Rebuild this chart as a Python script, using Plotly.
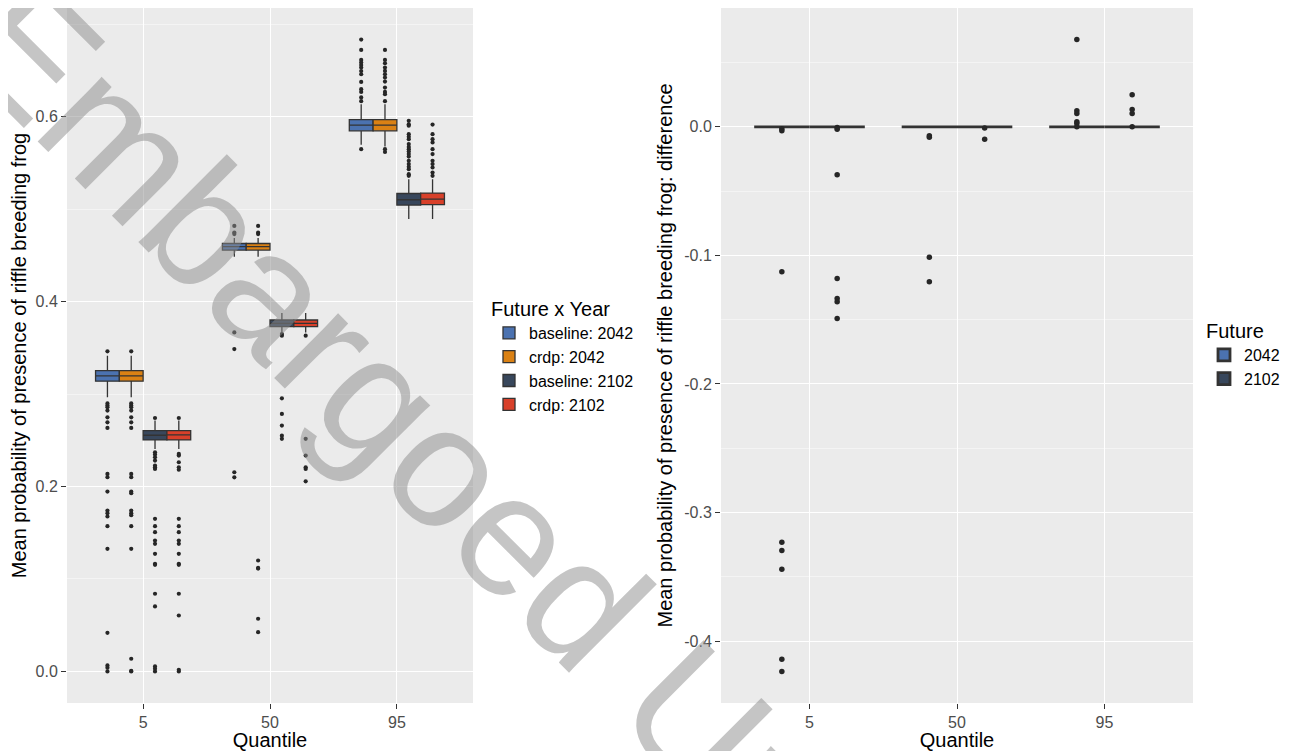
import plotly.graph_objects as go

# ---------------- data ----------------
quantile_labels = ["5", "50", "95"]
quantile_pos = [1, 2, 3]

# Left panel: Future x Year groups
groups_left = ["baseline: 2042", "crdp: 2042", "baseline: 2102", "crdp: 2102"]
colors_left = ["#4B72B0", "#DA8114", "#38475C", "#D8402A"]

# box statistics per group, listed over quantiles [5, 50, 95]
q1_bl2042 = [0.3140, 0.4559, 0.5849]
med_bl2042 = [0.3197, 0.4595, 0.5910]
q3_bl2042 = [0.3254, 0.4630, 0.5970]
lo_bl2042 = [0.2966, 0.4486, 0.5697]
hi_bl2042 = [0.3416, 0.4689, 0.6137]

q1_cr2042 = [0.3140, 0.4559, 0.5849]
med_cr2042 = [0.3197, 0.4595, 0.5910]
q3_cr2042 = [0.3254, 0.4630, 0.5970]
lo_cr2042 = [0.2966, 0.4486, 0.5680]
hi_cr2042 = [0.3416, 0.4689, 0.6137]

q1_bl2102 = [0.2505, 0.3730, 0.5045]
med_bl2102 = [0.2555, 0.3766, 0.5103]
q3_bl2102 = [0.2605, 0.3802, 0.5171]
lo_bl2102 = [0.2407, 0.3668, 0.4894]
hi_bl2102 = [0.2715, 0.3878, 0.5324]

q1_cr2102 = [0.2505, 0.3730, 0.5050]
med_cr2102 = [0.2560, 0.3766, 0.5110]
q3_cr2102 = [0.2605, 0.3802, 0.5175]
lo_cr2102 = [0.2407, 0.3668, 0.4894]
hi_cr2102 = [0.2715, 0.3878, 0.5324]

# outliers per group, per quantile
out_bl2042_q5 = [0.3463, 0.2900, 0.2876, 0.2858, 0.2822, 0.2749, 0.2695, 0.2634, 0.2137, 0.2101,
                 0.1946, 0.1740, 0.1712, 0.1676, 0.1571, 0.1326, 0.0418, 0.0065, 0.0040, 0.0000]
out_bl2042_q50 = [0.4820, 0.4749, 0.4732, 0.3668, 0.3488, 0.2155, 0.2100]
out_bl2042_q95 = [0.6836, 0.6724, 0.6616, 0.6587, 0.6560, 0.6533, 0.6495, 0.6461, 0.6378, 0.6300,
                  0.6270, 0.6210, 0.6170, 0.5650]

out_cr2042_q5 = [0.3463, 0.2900, 0.2876, 0.2858, 0.2822, 0.2749, 0.2695, 0.2634, 0.2137, 0.2101,
                 0.1946, 0.1928, 0.1740, 0.1712, 0.1690, 0.1571, 0.1326, 0.0137, 0.0005, 0.0000]
out_cr2042_q50 = [0.4820, 0.4749, 0.4732, 0.1200, 0.1120, 0.1113, 0.0570, 0.0425]
out_cr2042_q95 = [0.6724, 0.6616, 0.6580, 0.6533, 0.6497, 0.6461, 0.6425, 0.6382, 0.6317, 0.6270,
                  0.6245, 0.6170, 0.5650, 0.5620]

out_bl2102_q5 = [0.2742, 0.2371, 0.2346, 0.2317, 0.2281, 0.2227, 0.2209, 0.2191, 0.1651, 0.1571,
                 0.1506, 0.1416, 0.1380, 0.1272, 0.1164, 0.1153, 0.0840, 0.0703, 0.0054, 0.0029, 0.0000]
out_bl2102_q50 = [0.3650, 0.3632, 0.2955, 0.2786, 0.2660, 0.2551, 0.2516]
out_bl2102_q95 = [0.5957, 0.5920, 0.5905, 0.5813, 0.5785, 0.5759, 0.5705, 0.5675, 0.5650, 0.5624,
                  0.5597, 0.5570, 0.5524, 0.5489, 0.5460, 0.5434, 0.5380, 0.5362]

out_cr2102_q5 = [0.2742, 0.2353, 0.2335, 0.2263, 0.2209, 0.2182, 0.1651, 0.1571, 0.1506, 0.1416,
                 0.1380, 0.1272, 0.1164, 0.1153, 0.0840, 0.0605, 0.0018, 0.0000]
out_cr2102_q50 = [0.3632, 0.2516, 0.2335, 0.2209, 0.2191, 0.2057]
out_cr2102_q95 = [0.5917, 0.5813, 0.5759, 0.5723, 0.5650, 0.5597, 0.5524, 0.5489, 0.5452, 0.5398, 0.5362]

# Right panel: difference (crdp - baseline) by Future year
groups_right = ["2042", "2102"]
colors_right = ["#4B72B0", "#38475C"]
q1_d2042 = [0.0, 0.0, 0.0]
med_d2042 = [0.0, 0.0, 0.0]
q3_d2042 = [0.0, 0.0, 0.0]
lo_d2042 = [0.0, 0.0, 0.0]
hi_d2042 = [0.0, 0.0, 0.0]
q1_d2102 = [0.0, 0.0, 0.0]
med_d2102 = [0.0, 0.0, 0.0]
q3_d2102 = [0.0, 0.0, 0.0]
lo_d2102 = [0.0, 0.0, 0.0]
hi_d2102 = [0.0, 0.0, 0.0]

out_d2042_q5 = [-0.0015, -0.0030, -0.1127, -0.3230, -0.3295, -0.3440, -0.4140, -0.4235]
out_d2042_q50 = [-0.0070, -0.0082, -0.1015, -0.1205]
out_d2042_q95 = [0.0678, 0.0124, 0.0103, 0.0040, 0.0025, 0.0000]
out_d2102_q5 = [-0.0005, -0.0020, -0.0373, -0.1180, -0.1335, -0.1360, -0.1490]
out_d2102_q50 = [-0.0010, -0.0096]
out_d2102_q95 = [0.0249, 0.0135, 0.0103, 0.0000]

left_ticks = [0.0, 0.2, 0.4, 0.6]
left_ticktext = ["0.0", "0.2", "0.4", "0.6"]
right_ticks = [-0.4, -0.3, -0.2, -0.1, 0.0]
right_ticktext = ["-0.4", "-0.3", "-0.2", "-0.1", "0.0"]

watermark = "Embargoed Until"

# ---------------- figure ----------------
# the page body has an 8px default margin; size the figure so it fills the window
OFF = 8
W, H = 1291 - OFF, 751 - OFF
FONT = "Liberation Sans, Arial, sans-serif"
OUTLINE = "#333333"


def px(x):
    return min(max((x - OFF) / W, 0.0), 1.0)


def py(y):
    return min(max(1 - (y - OFF) / H, 0.0), 1.0)


fig = go.Figure()

left_stats = [
    (q1_bl2042, med_bl2042, q3_bl2042, lo_bl2042, hi_bl2042, [out_bl2042_q5, out_bl2042_q50, out_bl2042_q95]),
    (q1_cr2042, med_cr2042, q3_cr2042, lo_cr2042, hi_cr2042, [out_cr2042_q5, out_cr2042_q50, out_cr2042_q95]),
    (q1_bl2102, med_bl2102, q3_bl2102, lo_bl2102, hi_bl2102, [out_bl2102_q5, out_bl2102_q50, out_bl2102_q95]),
    (q1_cr2102, med_cr2102, q3_cr2102, lo_cr2102, hi_cr2102, [out_cr2102_q5, out_cr2102_q50, out_cr2102_q95]),
]
right_stats = [
    (q1_d2042, med_d2042, q3_d2042, lo_d2042, hi_d2042, [out_d2042_q5, out_d2042_q50, out_d2042_q95]),
    (q1_d2102, med_d2102, q3_d2102, lo_d2102, hi_d2102, [out_d2102_q5, out_d2102_q50, out_d2102_q95]),
]

DODGE = 0.75


def add_panel(stats, names, colors, xa, ya, legend, linew, msize):
    n = len(stats)
    bw = DODGE / n
    for i, (q1, med, q3, lo, hi, outs) in enumerate(stats):
        off = (i - (n - 1) / 2) * bw
        xs = [p + off for p in quantile_pos]
        fig.add_trace(go.Box(
            x=xs, q1=q1, median=med, q3=q3, lowerfence=lo, upperfence=hi,
            width=bw, name=names[i], fillcolor=colors[i],
            line=dict(color=OUTLINE, width=linew), whiskerwidth=0,
            boxpoints=False, xaxis=xa, yaxis=ya, legend=legend,
            hoverinfo="skip",
        ))
        ox, oy = [], []
        for p, vals in zip(quantile_pos, outs):
            ox += [p + off] * len(vals)
            oy += vals
        fig.add_trace(go.Scatter(
            x=ox, y=oy, mode="markers", showlegend=False,
            marker=dict(color="#262626", size=msize),
            xaxis=xa, yaxis=ya, hoverinfo="skip",
        ))


add_panel(left_stats, groups_left, colors_left, "x", "y", "legend", 1.3, 4.2)
add_panel(right_stats, groups_right, colors_right, "x2", "y2", "legend2", 2.8, 5.5)


def yrange(stats):
    vals = []
    for q1, med, q3, lo, hi, outs in stats:
        vals += lo + hi
        for o in outs:
            vals += o
    mn, mx = min(vals), max(vals)
    pad = 0.05 * (mx - mn)
    return [mn - pad, mx + pad]


ydom = [py(703), py(7)]
axis_common = dict(
    showgrid=True, gridcolor="white", gridwidth=1.4, zeroline=False, automargin=False,
    showline=False, ticks="outside", ticklen=5, tickcolor=OUTLINE, tickwidth=1,
    tickfont=dict(size=16, color="#4D4D4D", family=FONT),
)
fig.update_layout(
    width=W, height=H,
    margin=dict(l=0, r=0, t=0, b=0, autoexpand=False),
    paper_bgcolor="white", plot_bgcolor="#EBEBEB",
    font=dict(family=FONT, color="black"),
    showlegend=True,
    xaxis=dict(domain=[px(67), px(473)], range=[0.4, 3.6], tickvals=quantile_pos,
               ticktext=quantile_labels, anchor="y",
               title=dict(text="Quantile", font=dict(size=20, color="black"), standoff=2),
               **axis_common),
    yaxis=dict(domain=ydom, range=yrange(left_stats), tickvals=left_ticks, ticktext=left_ticktext,
               anchor="x",
               minor=dict(dtick=0.1, tick0=0.1, showgrid=True, gridcolor="#F4F4F4", gridwidth=0.7, ticks=""),
               title=dict(text="Mean probability of presence of riffle breeding frog",
                          font=dict(size=20, color="black"), standoff=6),
               **axis_common),
    xaxis2=dict(domain=[px(721), px(1193)], range=[0.4, 3.6], tickvals=quantile_pos,
                ticktext=quantile_labels, anchor="y2",
                title=dict(text="Quantile", font=dict(size=20, color="black"), standoff=2),
                **axis_common),
    yaxis2=dict(domain=ydom, range=yrange(right_stats), tickvals=right_ticks, ticktext=right_ticktext,
                anchor="x2",
                minor=dict(dtick=0.05, tick0=0.05, showgrid=True, gridcolor="#F4F4F4", gridwidth=0.7, ticks=""),
                title=dict(text="Mean probability of presence of riffle breeding frog: difference",
                           font=dict(size=20, color="black"), standoff=6),
                **axis_common),
    legend=dict(x=px(489), y=py(290), xanchor="left", yanchor="top",
                title=dict(text="Future x Year", font=dict(size=20, color="black")),
                font=dict(size=16, color="black"), bgcolor="rgba(0,0,0,0)", itemwidth=30),
    legend2=dict(x=px(1204), y=py(312), xanchor="left", yanchor="top",
                 title=dict(text="Future", font=dict(size=20, color="black")),
                 font=dict(size=16, color="black"), bgcolor="rgba(0,0,0,0)", itemwidth=30),
)

fig.add_annotation(
    text=watermark, xref="paper", yref="paper",
    x=(443 - OFF) / W, y=1 - (462 - OFF) / H, xanchor="center", yanchor="middle",
    textangle=45, showarrow=False,
    font=dict(size=172, color="rgba(140,140,140,0.5)", family=FONT),
)

fig.write_html("out.html")
